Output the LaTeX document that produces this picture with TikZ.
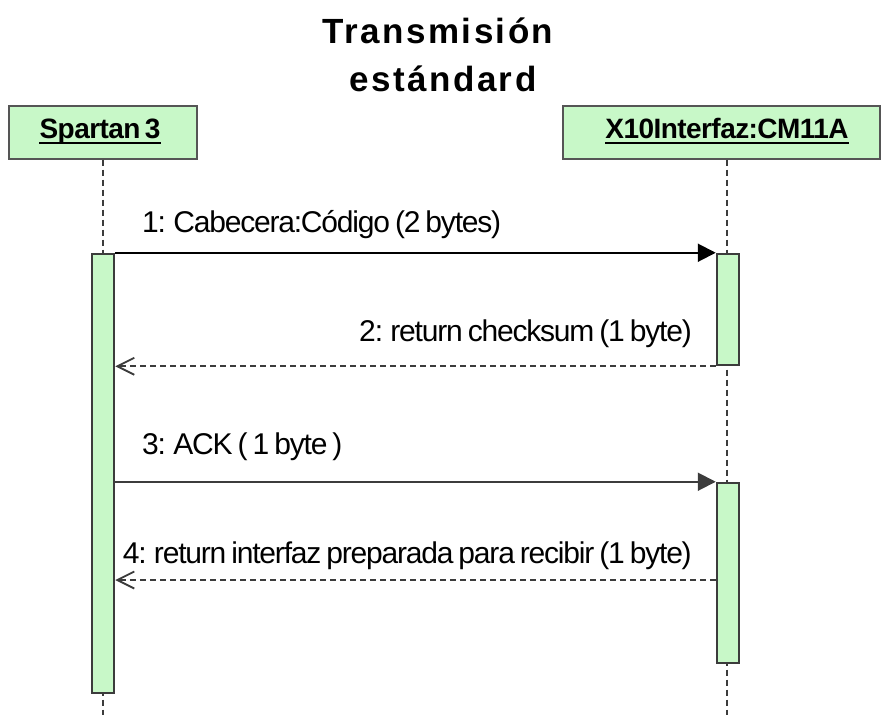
\documentclass[tikz,border=0pt]{standalone}
\usepackage{fontspec}
\setmainfont{Liberation Sans}
\newfontfamily\titlefont[LetterSpace=7]{Liberation Sans}
\newfontfamily\boxfont[LetterSpace=-2,WordSpace=0.6]{Liberation Sans}
\newfontfamily\msgfont[LetterSpace=-4,WordSpace=0.7]{Liberation Sans}
\usetikzlibrary{arrows.meta}
\definecolor{umlgreen}{RGB}{200,248,200}
\definecolor{umlgray}{RGB}{85,85,85}
\definecolor{linegray}{RGB}{60,60,60}
\begin{document}
\begin{tikzpicture}[x=1pt,y=-1pt,
  pbox/.style={draw=umlgray, fill=umlgreen, line width=2pt, inner sep=0pt, minimum height=53pt},
  plabel/.style={font=\boxfont\bfseries\fontsize{28}{32}\selectfont, inner sep=0pt},
  uline/.style={line width=2.7pt, black},
  act/.style={draw=linegray, fill=umlgreen, line width=2.5pt, inner sep=0pt, minimum width=22pt},
  lifeline/.style={draw=linegray, line width=2pt, dash pattern=on 6pt off 4pt},
  msgl/.style={font=\msgfont\fontsize{30}{34}\selectfont, inner sep=0pt},
  sync/.style={draw=black, line width=2pt, -{Triangle[length=18pt,width=18pt]}},
  async/.style={draw=linegray, line width=2pt, -{Triangle[length=18pt,width=18pt]}},
  ret/.style={draw=linegray, line width=1.8pt, dash pattern=on 6pt off 4pt, -{Straight Barb[length=17pt,width=17pt,line width=1.8pt]}},
  ttl/.style={font=\titlefont\bfseries\fontsize{35}{42}\selectfont, inner sep=0pt}
]
\useasboundingbox (0,0) rectangle (882,715);

% title
\node[ttl, anchor=base] (t1) at (438,43) {Transmisión};
\node[ttl, anchor=base] (t2) at (443,91) {estándard};

% participants
\node[pbox, minimum width=188pt] (sp) at (103,132) {};
\node[pbox, minimum width=317pt] (cm) at (721.5,132) {};
\node[plabel, anchor=base] (spl) at (100,138) {Spartan 3};
\node[plabel, anchor=base] (cml) at (727,138) {X10Interfaz:CM11A};
\draw[uline] ([yshift=-5pt]spl.base west) -- ([yshift=-5pt]spl.base east);
\draw[uline] ([yshift=-5pt]cml.base west) -- ([yshift=-5pt]cml.base east);

% lifelines
\coordinate (endl) at (0,715);
\draw[lifeline] (sp.south) -- (sp.south |- endl);
\draw[lifeline] (cml |- cm.south) -- (cml |- endl);

% activations
\node[act, minimum height=439pt] (a1) at (103,473.5) {};
\node[act, minimum height=111pt] (r1) at (728,309.5) {};
\node[act, minimum height=180pt] (r2) at (728,573) {};

% messages
\draw[sync] (a1.north east) -- (r1.north west);
\node[msgl, anchor=base west] (m1) at (142,232) {1: Cabecera:Código (2 bytes)};

\draw[ret] (r1.south west) -- (a1.east |- r1.south west);
\node[msgl, anchor=base east] (m2) at (692,341) {2: return checksum (1 byte)};

\draw[async] (a1.east |- r2.north) -- (r2.north west);
\node[msgl, anchor=base west] (m3) at (142,454) {3: ACK ( 1 byte )};

\coordinate (y4) at (0,580);
\draw[ret] (r2.west |- y4) -- (a1.east |- y4);
\node[msgl, anchor=base east] (m4) at (692,563) {4: return interfaz preparada para recibir (1 byte)};
\end{tikzpicture}
\end{document}
